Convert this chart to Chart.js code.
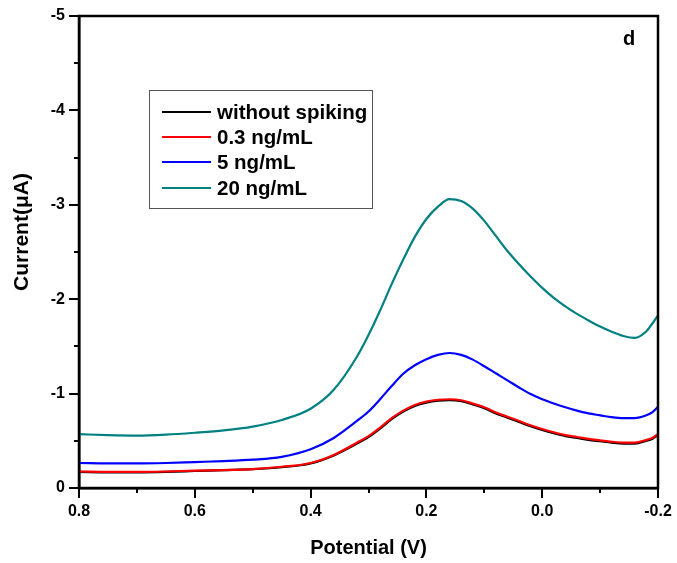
<!DOCTYPE html>
<html>
<head>
<meta charset="utf-8">
<script src="https://cdn.jsdelivr.net/npm/chart.js@4.4.1/dist/chart.umd.min.js"></script>
<style>
  html, body { margin: 0; padding: 0; background: #ffffff; }
  #wrap { width: 677px; height: 563px; }
</style>
</head>
<body>
<div id="wrap"><canvas id="c" width="677" height="563"></canvas></div>
<script>
// Potential (V)
const potentials = [0.8, 0.75, 0.7, 0.65, 0.6, 0.55, 0.5, 0.45, 0.4, 0.36, 0.32, 0.3, 0.28, 0.26, 0.24, 0.22, 0.2, 0.18, 0.16, 0.14, 0.12, 0.1, 0.08, 0.06, 0.04, 0.02, 0.0, -0.02, -0.04, -0.06, -0.08, -0.1, -0.12, -0.14, -0.16, -0.18, -0.19, -0.2];

const seriesLabels = ["without spiking", "0.3 ng/mL", "5 ng/mL", "20 ng/mL"];

// Current (µA)
const withoutSpiking = [-0.17, -0.165, -0.165, -0.17, -0.18, -0.19, -0.20, -0.22, -0.26, -0.345, -0.47, -0.54, -0.63, -0.73, -0.81, -0.87, -0.905, -0.925, -0.93, -0.92, -0.885, -0.845, -0.79, -0.745, -0.70, -0.655, -0.615, -0.58, -0.55, -0.53, -0.51, -0.495, -0.48, -0.47, -0.47, -0.50, -0.52, -0.56];
const ng03 = [-0.175, -0.17, -0.17, -0.175, -0.185, -0.19, -0.20, -0.225, -0.265, -0.35, -0.48, -0.55, -0.64, -0.74, -0.82, -0.88, -0.915, -0.935, -0.94, -0.93, -0.895, -0.855, -0.80, -0.755, -0.71, -0.665, -0.625, -0.59, -0.56, -0.54, -0.52, -0.505, -0.49, -0.48, -0.48, -0.51, -0.53, -0.57];
const ng5 = [-0.265, -0.26, -0.26, -0.265, -0.275, -0.285, -0.30, -0.33, -0.41, -0.53, -0.71, -0.81, -0.94, -1.08, -1.21, -1.30, -1.365, -1.41, -1.43, -1.41, -1.36, -1.29, -1.215, -1.14, -1.065, -0.995, -0.94, -0.895, -0.855, -0.82, -0.79, -0.77, -0.75, -0.74, -0.74, -0.77, -0.80, -0.86];
const ng20 = [-0.57, -0.56, -0.555, -0.565, -0.585, -0.61, -0.65, -0.72, -0.84, -1.04, -1.39, -1.62, -1.88, -2.16, -2.42, -2.66, -2.85, -2.98, -3.06, -3.04, -2.96, -2.83, -2.67, -2.51, -2.37, -2.24, -2.12, -2.015, -1.925, -1.845, -1.775, -1.71, -1.655, -1.61, -1.59, -1.66, -1.74, -1.83];

const xTickValues = [0.8, 0.6, 0.4, 0.2, 0.0, -0.2];
const yTickValues = [0, -1, -2, -3, -4, -5];

const FONT = '"Liberation Sans", Arial, sans-serif';
const colors = ['#000000', '#ff0000', '#0000ff', '#008080'];
const seriesValues = [withoutSpiking, ng03, ng5, ng20];

const datasets = seriesValues.map((vals, i) => ({
  label: seriesLabels[i],
  data: potentials.map((p, j) => ({ x: p, y: vals[j] })),
  borderColor: colors[i],
  backgroundColor: colors[i],
  borderWidth: 2.2,
  pointRadius: 0,
  cubicInterpolationMode: 'monotone',
  fill: false,
  order: 4 - i
}));

function zeroPad(scale) {
  scale.paddingTop = 0; scale.paddingBottom = 0;
  scale.paddingLeft = 0; scale.paddingRight = 0;
}

const framePlugin = {
  id: 'frame',
  beforeDraw(chart) {
    const ctx = chart.ctx;
    ctx.save();
    ctx.fillStyle = '#ffffff';
    ctx.fillRect(0, 0, chart.width, chart.height);
    ctx.restore();
  },
  afterDraw(chart) {
    const ctx = chart.ctx;
    const a = chart.chartArea;
    const xs = chart.scales.x, ys = chart.scales.y;
    ctx.save();
    // frame
    ctx.strokeStyle = '#000';
    ctx.lineWidth = 2.5;
    ctx.strokeRect(a.left, a.top, a.right - a.left, a.bottom - a.top);
    // ticks
    ctx.lineWidth = 2;
    ctx.beginPath();
    for (let v = -0.2; v <= 0.8001; v += 0.1) {
      const px = Math.round(xs.getPixelForValue(v));
      const major = Math.abs(Math.round(v * 10) % 2) === 0;
      const len = major ? 10 : 5;
      ctx.moveTo(px, a.bottom);
      ctx.lineTo(px, a.bottom + len);
    }
    for (let v = -5; v <= 0.0001; v += 0.5) {
      const py = Math.round(ys.getPixelForValue(v));
      const major = Math.abs(v - Math.round(v)) < 1e-6;
      const len = major ? 10 : 5;
      ctx.moveTo(a.left, py);
      ctx.lineTo(a.left - len, py);
    }
    ctx.stroke();

    // y title
    ctx.fillStyle = '#000';
    ctx.font = 'bold 21px ' + FONT;
    ctx.textAlign = 'center';
    ctx.textBaseline = 'middle';
    ctx.save();
    ctx.translate(22, 232);
    ctx.rotate(-Math.PI / 2);
    ctx.fillText('Current(\u03bcA)', 0, 0);
    ctx.restore();

    // panel letter
    ctx.font = 'bold 20px ' + FONT;
    ctx.fillText('d', 629, 39);

    // legend
    const lx = 149, ly = 90, lw = 223, lh = 118;
    ctx.lineWidth = 1;
    ctx.strokeStyle = '#555';
    ctx.strokeRect(lx + 0.5, ly + 0.5, lw, lh);
    const rows = [112, 137, 162, 188];
    ctx.font = 'bold 20.5px ' + FONT;
    ctx.textAlign = 'left';
    chart.data.datasets.forEach((ds, i) => {
      ctx.strokeStyle = ds.borderColor;
      ctx.lineWidth = 2;
      ctx.beginPath();
      ctx.moveTo(162, rows[i]);
      ctx.lineTo(211, rows[i]);
      ctx.stroke();
      ctx.fillStyle = '#000';
      ctx.fillText(ds.label, 217, rows[i] + 1);
    });
    ctx.restore();
  }
};

new Chart(document.getElementById('c'), {
  type: 'line',
  data: { datasets },
  options: {
    responsive: false,
    animation: false,
    devicePixelRatio: 1,
    layout: { padding: { left: 0, right: 19, top: 16, bottom: 0 } },
    plugins: { legend: { display: false }, tooltip: { enabled: false } },
    scales: {
      x: {
        type: 'linear',
        min: -0.2, max: 0.8, reverse: true,
        afterBuildTicks(scale) { scale.ticks = xTickValues.map(v => ({ value: v })); },
        afterFit(scale) { scale.height = 75; zeroPad(scale); },
        ticks: {
          padding: 14,
          color: '#000',
          font: { family: FONT, size: 16, weight: 'bold' },
          callback: v => Number(v).toFixed(1)
        },
        grid: { display: true, drawOnChartArea: false, drawTicks: false },
        border: { display: true, color: '#000', width: 2.5 },
        title: {
          display: true, text: 'Potential (V)', color: '#000',
          font: { family: FONT, size: 20, weight: 'bold' },
          padding: { top: 0, bottom: 3 }
        }
      },
      y: {
        type: 'linear',
        min: -5, max: 0, reverse: true,
        afterBuildTicks(scale) { scale.ticks = yTickValues.map(v => ({ value: v })); },
        afterFit(scale) { scale.width = 79; zeroPad(scale); },
        ticks: {
          padding: 14,
          color: '#000',
          font: { family: FONT, size: 16, weight: 'bold' },
          callback: v => String(Math.round(v))
        },
        grid: { display: true, drawOnChartArea: false, drawTicks: false },
        border: { display: true, color: '#000', width: 2.5 },
        title: { display: false }
      }
    }
  },
  plugins: [framePlugin]
});
</script>
</body>
</html>
